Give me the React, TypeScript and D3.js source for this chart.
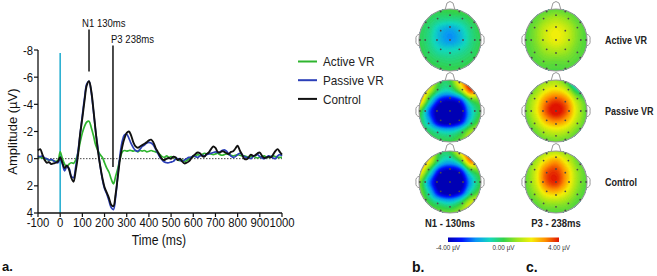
import React from 'react';
import * as d3 from 'd3';

// ---------- ERP data (µV, sampled every 10 ms from -100 to 1000 ms) ----------
const times: number[] = d3.range(-100, 1001, 10);

const controlVals: number[] = [
  -0.6, -0.7, -0.3, 0.1, 0.3, 0.25, 0.4, 0.35, 0.3, 0.2,
  -0.1, 0.3, 0.7, 0.5, 0.8, 1.4, 1.7, 0.9, -0.2, -1.8,
  -3.0, -4.3, -5.4, -5.7, -5.0, -3.6, -2.0, -0.6, 0.5, 1.4,
  2.1, 2.5, 2.9, 3.4, 3.5, 2.6, 1.3, 0.0, -0.9, -1.5,
  -1.9, -2.0, -1.7, -1.2, -0.9, -0.8, -0.9, -1.0, -1.1, -1.2,
  -1.35, -1.4, -1.2, -0.8, -0.5, -0.2, 0.05, 0.1, 0.0, -0.05,
  0.0, -0.15, -0.1, 0.1, 0.0, 0.2, 0.35, 0.3, 0.2, 0.0,
  -0.2, -0.35, -0.45, -0.4, -0.2, -0.15, -0.35, -0.45, -0.7, -0.9,
  -0.8, -0.5, -0.45, -0.55, -0.5, -0.4, -0.35, -0.5, -0.55, -0.75,
  -0.95, -0.6, -0.3, 0.0, 0.05, -0.1, -0.3, -0.2, -0.25, -0.4,
  -0.45, -0.2, -0.05, -0.1, -0.15, -0.1, -0.3, -0.55, -0.7, -0.5, -0.3,
];

const passiveVals: number[] = [
  -0.2, -0.15, -0.2, -0.05, 0.0, 0.1, 0.05, 0.15, 0.25, 0.3,
  0.0, 0.4, 0.9, 0.6, 0.7, 1.3, 1.4, 0.6, -0.5, -1.8,
  -3.2, -4.5, -5.5, -5.7, -4.9, -3.5, -2.0, -0.8, 0.5, 1.5,
  2.2, 2.6, 3.1, 3.6, 3.75, 2.8, 1.2, -0.3, -1.3, -1.75,
  -1.8, -1.5, -1.1, -0.8, -0.6, -0.55, -0.7, -0.9, -1.0, -1.15,
  -1.2, -1.15, -1.0, -0.7, -0.4, -0.1, 0.1, 0.25, 0.3, 0.3,
  0.25, 0.2, 0.05, 0.0, 0.1, 0.2, 0.1, 0.0, -0.1, -0.1,
  -0.2, -0.15, -0.1, -0.2, -0.25, -0.2, -0.3, -0.35, -0.4, -0.45,
  -0.5, -0.45, -0.5, -0.6, -0.65, -0.55, -0.35, -0.2, -0.1, -0.15,
  -0.3, -0.4, -0.3, -0.15, -0.1, -0.05, 0.0, -0.15, -0.25, -0.3,
  -0.15, -0.05, 0.0, -0.1, -0.2, -0.15, -0.05, 0.0, -0.2, -0.3, -0.2,
];

const activeVals: number[] = [
  -0.1, -0.1, -0.05, 0.0, 0.05, 0.1, 0.1, 0.15, 0.2, 0.15,
  -0.5, 0.0, 0.4, 0.6, 0.4, 0.3, 0.35, 0.1, -0.4, -1.2,
  -1.9, -2.4, -2.7, -2.75, -2.3, -1.7, -1.0, -0.6, -0.3, -0.1,
  0.3, 0.7, 1.0, 1.5, 1.85, 1.3, 0.7, 0.0, -0.5, -0.6,
  -0.55, -0.6, -0.6, -0.55, -0.6, -0.5, -0.6, -0.55, -0.6, -0.5,
  -0.55, -0.6, -0.55, -0.5, -0.45, -0.3, -0.15, -0.1, -0.2, -0.1,
  -0.15, -0.1, -0.05, 0.1, 0.15, 0.1, 0.2, 0.15, 0.0, -0.1,
  -0.15, -0.2, -0.3, -0.25, -0.3, -0.4, -0.35, -0.4, -0.35, -0.3,
  -0.35, -0.4, -0.3, -0.25, -0.3, -0.35, -0.3, -0.25, -0.2, -0.25,
  -0.3, -0.25, -0.2, -0.2, -0.15, -0.1, -0.15, -0.2, -0.1, -0.05,
  -0.1, -0.15, -0.2, -0.1, -0.1, -0.15, -0.2, -0.15, -0.1, -0.1, -0.1,
];

const seriesNames = ['Active VR', 'Passive VR', 'Control'];
const seriesColors = ['#2fb52f', '#2b3fb8', '#111111'];
const seriesValues = [activeVals, passiveVals, controlVals];

const xTicks = [-100, 0, 100, 200, 300, 400, 500, 600, 700, 800, 900, 1000];
const yTicks = [-8, -6, -4, -2, 0, 2, 4];

const peakLabels = ['N1 130ms', 'P3 238ms'];
const peakTimes = [130, 238];

// ---------- Topographic maps: 7x7 grids (rows front→back, cols left→right) ----------
const mapN1Active: number[][] = [
  [0, 0, 0, 0.1, 0.2, 0.2, 0.2],
  [0, -0.2, -0.5, -0.6, -0.5, -0.1, 0.1],
  [-0.1, -0.5, -1.4, -1.8, -1.3, -0.5, 0],
  [-0.1, -0.6, -1.5, -2.0, -1.5, -0.6, -0.1],
  [0, -0.4, -0.9, -1.0, -0.8, -0.4, 0],
  [0, -0.1, -0.3, -0.4, -0.3, -0.1, 0],
  [0, 0, 0, 0, 0, 0, 0],
];
const mapN1Passive: number[][] = [
  [2.5, 2.0, 0.0, 0.0, 2.5, 4.0, 3.0],
  [3.6, 1.5, -0.6, -0.9, 0.8, 3.5, 2.0],
  [3.0, -0.6, -3.2, -3.8, -3.0, -0.2, 0.5],
  [0.5, -2.5, -4.6, -4.8, -4.3, -1.5, 0.0],
  [0.0, -1.8, -4.2, -4.6, -3.6, -1.0, 0.5],
  [0.0, -0.3, -1.0, -1.2, -0.5, 1.0, 1.5],
  [0.0, 0.0, 0.0, 0.0, 0.5, 1.5, 1.5],
];
const mapN1Control: number[][] = [
  [2.5, 2.0, 0.0, 0.0, 2.2, 4.0, 3.0],
  [3.8, 1.8, -0.8, -1.5, -0.2, 3.0, 2.0],
  [2.5, -0.5, -3.5, -4.2, -3.5, -0.5, 0.5],
  [0.8, -2.2, -4.6, -4.8, -4.5, -1.8, 0.0],
  [0.8, -1.2, -3.8, -4.4, -3.5, -0.8, 0.5],
  [1.0, 0.0, -0.8, -1.2, -0.3, 1.5, 2.0],
  [0.5, 0.5, 0.5, 0.5, 1.0, 2.0, 2.0],
];
const mapP3Active: number[][] = [
  [0.2, 0.2, 0.3, 0.4, 0.3, 0.2, 0.2],
  [0.2, 0.4, 0.9, 1.2, 0.9, 0.4, 0.2],
  [0.2, 0.7, 1.5, 1.9, 1.5, 0.7, 0.2],
  [0.2, 0.7, 1.5, 1.9, 1.5, 0.7, 0.2],
  [0.2, 0.5, 1.0, 1.2, 1.0, 0.5, 0.2],
  [0.1, 0.3, 0.5, 0.5, 0.5, 0.3, 0.1],
  [0.0, 0.1, 0.2, 0.2, 0.2, 0.1, 0.0],
];
const mapP3Passive: number[][] = [
  [0.2, 0.5, 0.8, 1.0, 0.0, -3.0, -2.0],
  [0.3, 0.8, 1.8, 2.2, 1.5, -0.5, -1.0],
  [0.5, 1.5, 3.0, 3.6, 3.0, 1.2, 0.2],
  [0.5, 1.7, 3.4, 4.2, 3.4, 1.6, 0.3],
  [0.3, 1.2, 2.5, 3.0, 2.5, 1.2, 0.3],
  [0.1, 0.5, 1.2, 1.5, 1.2, 0.5, 0.1],
  [0.0, 0.2, 0.4, 0.5, 0.4, 0.2, 0.0],
];
const mapP3Control: number[][] = [
  [0.2, 0.5, 1.0, 1.2, 0.8, 0.4, 0.2],
  [0.3, 1.0, 2.2, 2.8, 1.8, 0.6, 0.2],
  [0.4, 1.5, 3.3, 3.7, 2.6, 1.0, 0.3],
  [0.4, 1.5, 3.3, 3.8, 2.6, 1.0, 0.3],
  [0.3, 1.0, 2.2, 2.5, 1.8, 0.7, 0.2],
  [0.1, 0.4, 0.9, 1.0, 0.8, 0.3, 0.1],
  [0.0, 0.1, 0.3, 0.3, 0.3, 0.1, 0.0],
];

const mapColumns = [
  [mapN1Active, mapN1Passive, mapN1Control],
  [mapP3Active, mapP3Passive, mapP3Control],
];
const columnTitles = ['N1 - 130ms', 'P3 - 238ms'];
const rowTitles = ['Active VR', 'Passive VR', 'Control'];
const panelLetters = ['a.', 'b.', 'c.'];

const colorDomain = [-4, -3, -2, -1, 0, 1, 2, 3, 4];
const colorRange = ['#0000b4', '#0014ff', '#0a96f5', '#14d8c0', '#34d24a', '#a0e61e', '#f5f00a', '#ff9000', '#e01400'];
const colorbarLabels = ['-4.00 µV', '0.00 µV', '4.00 µV'];
const colorbarValues = [-4, 0, 4];

// electrode positions in unit-head coordinates
const electrodes: [number, number][] = [
  [0, 0],
  [0, -0.42], [0.3, -0.3], [0.42, 0], [0.3, 0.3], [0, 0.42], [-0.3, 0.3], [-0.42, 0], [-0.3, -0.3],
  [0, -0.8], [0.4, -0.69], [0.69, -0.4], [0.8, 0], [0.69, 0.4], [0.4, 0.69], [0, 0.8], [-0.4, 0.69], [-0.69, 0.4], [-0.8, 0], [-0.69, -0.4], [-0.4, -0.69],
  [0.3, -0.92], [0.78, -0.57], [0.97, 0], [0.78, 0.57], [0.3, 0.92], [-0.3, 0.92], [-0.78, 0.57], [-0.97, 0], [-0.78, -0.57], [-0.3, -0.92],
];

const color = d3.scaleLinear<string>().domain(colorDomain).range(colorRange).clamp(true);

function cr(p0: number, p1: number, p2: number, p3: number, t: number) {
  return 0.5 * (2 * p1 + (-p0 + p2) * t + (2 * p0 - 5 * p1 + 4 * p2 - p3) * t * t + (-p0 + 3 * p1 - 3 * p2 + p3) * t * t * t);
}
function sampleGrid(g: number[][], u: number, v: number) {
  const n = g.length;
  const cl = (k: number) => Math.max(0, Math.min(n - 1, k));
  const i = Math.min(n - 2, Math.floor(u));
  const j = Math.min(n - 2, Math.floor(v));
  const tu = u - i;
  const tv = v - j;
  const rows: number[] = [];
  for (let dj = -1; dj <= 2; dj++) {
    const r = g[cl(j + dj)];
    rows.push(cr(r[cl(i - 1)], r[cl(i)], r[cl(i + 1)], r[cl(i + 2)], tu));
  }
  return cr(rows[0], rows[1], rows[2], rows[3], tv);
}

const N = 72;
const thresholds = [-20, ...d3.range(-4, 4.001, 0.125)];

function Topo({ grid, cx, cy, r, id }: { grid: number[][]; cx: number; cy: number; r: number; id: string }) {
  const n = grid.length - 1;
  const values = new Array(N * N);
  for (let j = 0; j < N; j++) {
    for (let i = 0; i < N; i++) {
      values[i + j * N] = sampleGrid(grid, (i / (N - 1)) * n, (j / (N - 1)) * n);
    }
  }
  const contours = d3.contours().size([N, N]).thresholds(thresholds)(values);
  const s = (2 * r) / (N - 1);
  const proj = d3.geoTransform({
    point(px: number, py: number) {
      (this as any).stream.point(cx - r + (px - 0.5) * s, cy - r + (py - 0.5) * s);
    },
  });
  const path = d3.geoPath(proj);
  const gray = '#9a9a9a';
  return (
    <g>
      <defs>
        <clipPath id={id}>
          <circle cx={cx} cy={cy} r={r} />
        </clipPath>
      </defs>
      <path
        d={`M${cx - 5},${cy - r + 1} L${cx - 3},${cy - r - 6} Q${cx},${cy - r - 9} ${cx + 3},${cy - r - 6} L${cx + 5},${cy - r + 1}`}
        fill="#fff"
        stroke={gray}
        strokeWidth={1}
      />
      <path d={`M${cx - r + 1},${cy - 6} Q${cx - r - 4},${cy - 5} ${cx - r - 3},${cy} Q${cx - r - 4},${cy + 5} ${cx - r + 1},${cy + 6}`} fill="#fff" stroke={gray} strokeWidth={1} />
      <path d={`M${cx + r - 1},${cy - 6} Q${cx + r + 4},${cy - 5} ${cx + r + 3},${cy} Q${cx + r + 4},${cy + 5} ${cx + r - 1},${cy + 6}`} fill="#fff" stroke={gray} strokeWidth={1} />
      <g clipPath={`url(#${id})`}>
        {contours.map((c, k) => {
          const col = color(c.value < -4 ? -4 : c.value + 0.0625);
          return <path key={k} d={path(c as any) || ''} fill={col} stroke={col} strokeWidth={0.6} />;
        })}
      </g>
      <circle cx={cx} cy={cy} r={r} fill="none" stroke={gray} strokeWidth={1.2} />
      {electrodes.map((e, k) => (
        <circle key={k} cx={cx + e[0] * r} cy={cy + e[1] * r} r={0.9} fill="#4a4a4a" />
      ))}
    </g>
  );
}

const SX = 0.87;

export default function App() {
  const x = d3.scaleLinear().domain([-100, 1000]).range([38, 282]);
  const y = d3.scaleLinear().domain([-8, 4]).range([50, 213]);
  const lineGen = d3
    .line<number>()
    .x((_, i) => x(times[i]))
    .y((d) => y(d))
    .curve(d3.curveCatmullRom);

  const font = "'Liberation Sans', Arial, sans-serif";
  const headCols = [450, 556];
  const headRows = [40, 111, 182];
  const headR = 31;

  const cb = d3.scaleLinear().domain([-4, 4]).range([448, 559]);
  const gradStops = d3.range(-4, 4.001, 0.5);

  return (
    <svg width={657} height={276} style={{ position: 'absolute', left: 0, top: 0, background: '#fff' }} fontFamily={font}>
      <rect x={0} y={0} width={657} height={276} fill="#fff" />
      <defs>
        <linearGradient id="cbar" x1="0" x2="1" y1="0" y2="0">
          {gradStops.map((v) => (
            <stop key={v} offset={`${((v + 4) / 8) * 100}%`} stopColor={color(v)} />
          ))}
        </linearGradient>
      </defs>

      {/* ---- panel a ---- */}
      <line x1={x(-100)} x2={x(1000)} y1={y(0)} y2={y(0)} stroke="#333" strokeWidth={0.9} strokeDasharray="1.5,1.5" />
      <line x1={x(0)} x2={x(0)} y1={53} y2={y(4)} stroke="#2bb0d2" strokeWidth={1.6} />
      {seriesValues.map((vals, k) => (
        <path key={k} d={lineGen(vals) || ''} fill="none" stroke={seriesColors[k]} strokeWidth={k === 2 ? 1.9 : 1.7} strokeLinejoin="round" />
      ))}
      {/* axes */}
      <line x1={x(-100)} x2={x(-100)} y1={y(-8)} y2={y(4)} stroke="#111" strokeWidth={1.3} />
      <line x1={x(-100)} x2={x(1000)} y1={y(4)} y2={y(4)} stroke="#111" strokeWidth={1.3} />
      {yTicks.map((t) => (
        <g key={t}>
          <line x1={x(-100) - 4} x2={x(-100)} y1={y(t)} y2={y(t)} stroke="#111" strokeWidth={1.2} />
          <text transform={`translate(${x(-100) - 5},${y(t) + (t === 4 ? 3.6 : 4.6)}) scale(${SX},1)`} textAnchor="end" fontSize={13} fill="#111">
            {String(t)}
          </text>
        </g>
      ))}
      {xTicks.map((t) => (
        <g key={t}>
          <line x1={x(t)} x2={x(t)} y1={y(4)} y2={y(4) + 4} stroke="#111" strokeWidth={1.2} />
          <text transform={`translate(${x(t)},${226.5}) scale(${SX},1)`} textAnchor="middle" fontSize={13} fill="#111">
            {String(t)}
          </text>
        </g>
      ))}
      <text transform={`translate(159,245) scale(${SX},1)`} textAnchor="middle" fontSize={14} fill="#111">
        Time (ms)
      </text>
      <text transform={`translate(16.5,131.5) rotate(-90)`} textAnchor="middle" fontSize={13} fill="#111">
        Amplitude (µV)
      </text>
      {/* peak annotations */}
      <line x1={x(peakTimes[0])} x2={x(peakTimes[0])} y1={29.5} y2={71.5} stroke="#111" strokeWidth={1.5} />
      <line x1={x(peakTimes[1])} x2={x(peakTimes[1])} y1={45.5} y2={167} stroke="#111" strokeWidth={1.5} />
      <text transform={`translate(${x(peakTimes[0]) - 7},26.5) scale(${SX},1)`} fontSize={11} fill="#111">
        {peakLabels[0]}
      </text>
      <text transform={`translate(${x(peakTimes[1]) - 2},43) scale(${SX},1)`} fontSize={11} fill="#111">
        {peakLabels[1]}
      </text>
      {/* legend */}
      {seriesNames.map((name, k) => (
        <g key={name}>
          <line x1={298} x2={317} y1={61.5 + k * 18.7} y2={61.5 + k * 18.7} stroke={seriesColors[k]} strokeWidth={2} />
          <text transform={`translate(323,${61.5 + k * 18.7 + 4.7}) scale(${SX},1)`} fontSize={13.5} fill="#222">
            {name}
          </text>
        </g>
      ))}
      <text x={2} y={271} fontSize={13} fontWeight="bold" fill="#111">
        {panelLetters[0]}
      </text>

      {/* ---- panels b, c ---- */}
      {mapColumns.map((col, ci) =>
        col.map((grid, ri) => (
          <Topo key={`${ci}-${ri}`} grid={grid} cx={headCols[ci]} cy={headRows[ri]} r={headR} id={`clip-${ci}-${ri}`} />
        ))
      )}
      {rowTitles.map((t, ri) => (
        <text key={t} transform={`translate(605,${headRows[ri] + 3.5}) scale(0.9,1)`} fontSize={10} fontWeight="bold" fill="#222">
          {t}
        </text>
      ))}
      {columnTitles.map((t, ci) => (
        <text key={t} transform={`translate(${headCols[ci]},226.5) scale(0.95,1)`} fontSize={10} fontWeight="bold" fill="#222" textAnchor="middle">
          {t}
        </text>
      ))}
      <rect x={cb(-4)} y={237.5} width={cb(4) - cb(-4)} height={4.5} fill="url(#cbar)" />
      {colorbarValues.map((v, k) => (
        <text key={v} transform={`translate(${cb(v)},250) scale(0.85,1)`} fontSize={7.5} textAnchor="middle" fill="#333">
          {colorbarLabels[k]}
        </text>
      ))}
      <text x={412} y={272} fontSize={14} fontWeight="bold" fill="#111">
        {panelLetters[1]}
      </text>
      <text x={526} y={272} fontSize={14} fontWeight="bold" fill="#111">
        {panelLetters[2]}
      </text>
    </svg>
  );
}
